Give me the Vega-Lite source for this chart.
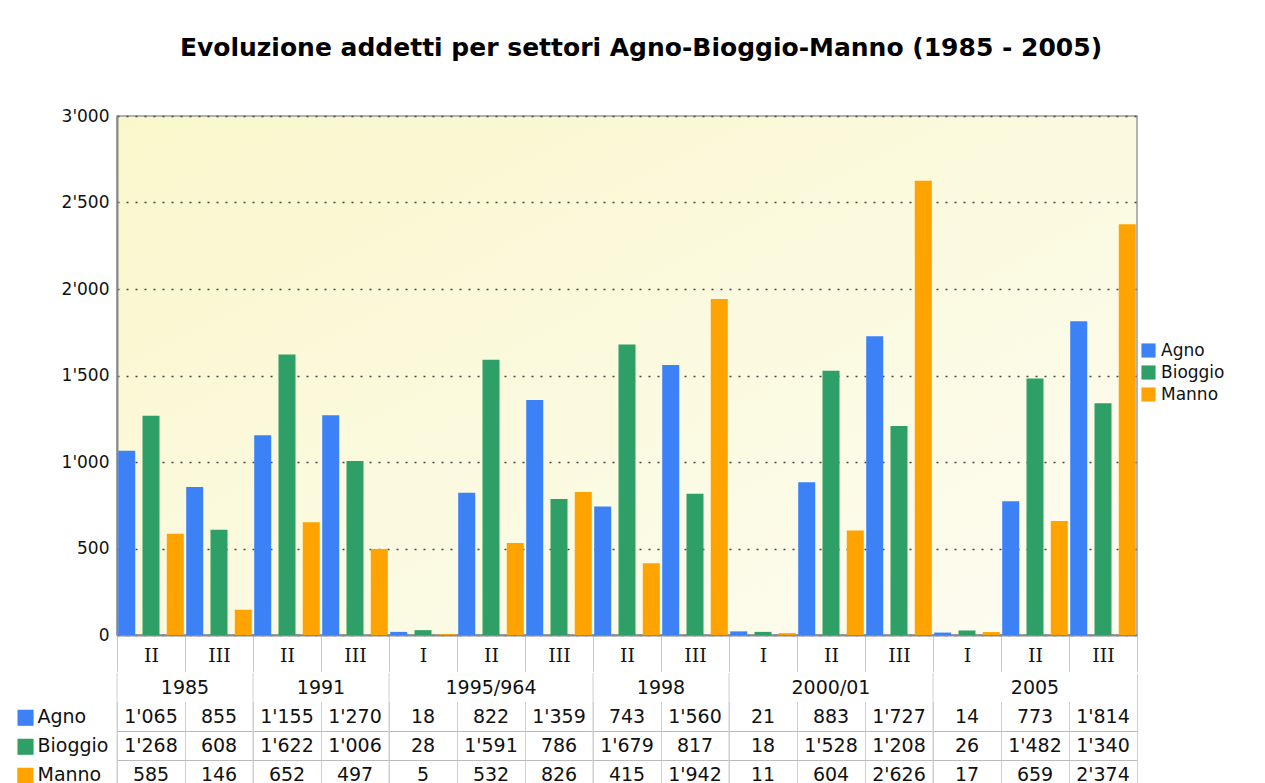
{
  "$schema": "https://vega.github.io/schema/vega-lite/v6.json",
  "background": "white",
  "padding": {"left": 15, "top": 36, "right": 0, "bottom": 0},
  "title": {"text": "Evoluzione addetti per settori Agno-Bioggio-Manno (1985 - 2005)", "font": "DejaVu Sans", "fontSize": 25, "fontWeight": "bold", "color": "#000", "anchor": "middle", "offset": 45, "dx": 21},
  "datasets": {
    "main": [
      {"col": "1985|II", "year": "1985", "sector": "II", "series": "Agno", "value": 1065},
      {"col": "1985|II", "year": "1985", "sector": "II", "series": "Bioggio", "value": 1268},
      {"col": "1985|II", "year": "1985", "sector": "II", "series": "Manno", "value": 585},
      {"col": "1985|III", "year": "1985", "sector": "III", "series": "Agno", "value": 855},
      {"col": "1985|III", "year": "1985", "sector": "III", "series": "Bioggio", "value": 608},
      {"col": "1985|III", "year": "1985", "sector": "III", "series": "Manno", "value": 146},
      {"col": "1991|II", "year": "1991", "sector": "II", "series": "Agno", "value": 1155},
      {"col": "1991|II", "year": "1991", "sector": "II", "series": "Bioggio", "value": 1622},
      {"col": "1991|II", "year": "1991", "sector": "II", "series": "Manno", "value": 652},
      {"col": "1991|III", "year": "1991", "sector": "III", "series": "Agno", "value": 1270},
      {"col": "1991|III", "year": "1991", "sector": "III", "series": "Bioggio", "value": 1006},
      {"col": "1991|III", "year": "1991", "sector": "III", "series": "Manno", "value": 497},
      {"col": "1995/964|I", "year": "1995/964", "sector": "I", "series": "Agno", "value": 18},
      {"col": "1995/964|I", "year": "1995/964", "sector": "I", "series": "Bioggio", "value": 28},
      {"col": "1995/964|I", "year": "1995/964", "sector": "I", "series": "Manno", "value": 5},
      {"col": "1995/964|II", "year": "1995/964", "sector": "II", "series": "Agno", "value": 822},
      {"col": "1995/964|II", "year": "1995/964", "sector": "II", "series": "Bioggio", "value": 1591},
      {"col": "1995/964|II", "year": "1995/964", "sector": "II", "series": "Manno", "value": 532},
      {"col": "1995/964|III", "year": "1995/964", "sector": "III", "series": "Agno", "value": 1359},
      {"col": "1995/964|III", "year": "1995/964", "sector": "III", "series": "Bioggio", "value": 786},
      {"col": "1995/964|III", "year": "1995/964", "sector": "III", "series": "Manno", "value": 826},
      {"col": "1998|II", "year": "1998", "sector": "II", "series": "Agno", "value": 743},
      {"col": "1998|II", "year": "1998", "sector": "II", "series": "Bioggio", "value": 1679},
      {"col": "1998|II", "year": "1998", "sector": "II", "series": "Manno", "value": 415},
      {"col": "1998|III", "year": "1998", "sector": "III", "series": "Agno", "value": 1560},
      {"col": "1998|III", "year": "1998", "sector": "III", "series": "Bioggio", "value": 817},
      {"col": "1998|III", "year": "1998", "sector": "III", "series": "Manno", "value": 1942},
      {"col": "2000/01|I", "year": "2000/01", "sector": "I", "series": "Agno", "value": 21},
      {"col": "2000/01|I", "year": "2000/01", "sector": "I", "series": "Bioggio", "value": 18},
      {"col": "2000/01|I", "year": "2000/01", "sector": "I", "series": "Manno", "value": 11},
      {"col": "2000/01|II", "year": "2000/01", "sector": "II", "series": "Agno", "value": 883},
      {"col": "2000/01|II", "year": "2000/01", "sector": "II", "series": "Bioggio", "value": 1528},
      {"col": "2000/01|II", "year": "2000/01", "sector": "II", "series": "Manno", "value": 604},
      {"col": "2000/01|III", "year": "2000/01", "sector": "III", "series": "Agno", "value": 1727},
      {"col": "2000/01|III", "year": "2000/01", "sector": "III", "series": "Bioggio", "value": 1208},
      {"col": "2000/01|III", "year": "2000/01", "sector": "III", "series": "Manno", "value": 2626},
      {"col": "2005|I", "year": "2005", "sector": "I", "series": "Agno", "value": 14},
      {"col": "2005|I", "year": "2005", "sector": "I", "series": "Bioggio", "value": 26},
      {"col": "2005|I", "year": "2005", "sector": "I", "series": "Manno", "value": 17},
      {"col": "2005|II", "year": "2005", "sector": "II", "series": "Agno", "value": 773},
      {"col": "2005|II", "year": "2005", "sector": "II", "series": "Bioggio", "value": 1482},
      {"col": "2005|II", "year": "2005", "sector": "II", "series": "Manno", "value": 659},
      {"col": "2005|III", "year": "2005", "sector": "III", "series": "Agno", "value": 1814},
      {"col": "2005|III", "year": "2005", "sector": "III", "series": "Bioggio", "value": 1340},
      {"col": "2005|III", "year": "2005", "sector": "III", "series": "Manno", "value": 2374}
    ],
    "years": [
      {"year": "1985", "first": "1985|II", "anchor": "1985|II", "span": 2},
      {"year": "1991", "first": "1991|II", "anchor": "1991|II", "span": 2},
      {"year": "1995/964", "first": "1995/964|I", "anchor": "1995/964|II", "span": 3},
      {"year": "1998", "first": "1998|II", "anchor": "1998|II", "span": 2},
      {"year": "2000/01", "first": "2000/01|I", "anchor": "2000/01|II", "span": 3},
      {"year": "2005", "first": "2005|I", "anchor": "2005|II", "span": 3}
    ]
  },
  "vconcat": [
    {
      "width": 1020,
      "height": 519,
      "data": {"name": "main"},
      "view": {
        "stroke": "#9a9a9a",
        "strokeWidth": 1.5,
        "fill": {"gradient": "linear", "x1": 0, "y1": 0, "x2": 1, "y2": 1, "stops": [{"offset": 0, "color": "#f9f7cb"}, {"offset": 1, "color": "#fdfcf2"}]}
      },
      "mark": {"type": "bar"},
      "encoding": {
        "x": {
          "field": "col", "type": "nominal",
          "scale": {"domain": ["1985|II", "1985|III", "1991|II", "1991|III", "1995/964|I", "1995/964|II", "1995/964|III", "1998|II", "1998|III", "2000/01|I", "2000/01|II", "2000/01|III", "2005|I", "2005|II", "2005|III"], "paddingInner": 0, "paddingOuter": 0},
          "axis": {"title": null, "labelExpr": "split(datum.value, '|')[1]", "labelAngle": 0, "tickBand": "extent", "ticks": true, "tickSize": 36, "tickColor": "#c8c8c8", "tickWidth": 1, "domainColor": "#8a8a8a", "domainWidth": 2, "labelFont": "DejaVu Serif", "labelFontSize": 19, "labelColor": "#111", "labelBaseline": "top", "labelPadding": -25}
        },
        "xOffset": {"field": "series", "type": "nominal", "scale": {"domain": ["Agno", "Bioggio", "Manno"], "paddingInner": 0.3, "paddingOuter": 0.05}},
        "y": {
          "field": "value", "type": "quantitative",
          "scale": {"domain": [0, 3000], "nice": false},
          "axis": {"title": null, "values": [0, 500, 1000, 1500, 2000, 2500, 3000], "format": ",d", "grid": true, "gridDash": [2, 7], "gridColor": "#444", "gridWidth": 1.5, "ticks": false, "domainColor": "#8a8a8a", "domainWidth": 2, "labelFont": "DejaVu Sans", "labelFontSize": 17, "labelColor": "#111", "labelPadding": 8}
        },
        "color": {
          "field": "series", "type": "nominal",
          "scale": {"domain": ["Agno", "Bioggio", "Manno"], "range": ["#3d81f6", "#2e9f66", "#ffa300"]},
          "legend": {"title": null, "orient": "none", "legendX": 1023, "legendY": 226, "symbolType": "square", "symbolSize": 200, "symbolStrokeWidth": 0, "labelFont": "DejaVu Sans", "labelFontSize": 17, "labelColor": "#111", "rowPadding": 4}
        }
      }
    },
    {
      "width": 1020,
      "height": 116,
      "layer": [
        {
          "data": {"name": "main"},
          "mark": {"type": "text", "font": "DejaVu Sans", "fontSize": 19, "color": "#111", "baseline": "middle"},
          "encoding": {
            "x": {
              "field": "col", "type": "nominal",
              "scale": {"type": "band", "domain": ["1985|II", "1985|III", "1991|II", "1991|III", "1995/964|I", "1995/964|II", "1995/964|III", "1998|II", "1998|III", "2000/01|I", "2000/01|II", "2000/01|III", "2005|I", "2005|II", "2005|III"], "paddingInner": 0, "paddingOuter": 0},
              "axis": {"title": null, "orient": "top", "labels": false, "ticks": false, "domain": false, "grid": true, "tickBand": "extent", "gridColor": "#cfcfcf", "gridWidth": 1, "minExtent": 0, "maxExtent": 0}
            },
            "y": {
              "field": "series", "type": "nominal",
              "scale": {"type": "band", "domain": ["year", "Agno", "Bioggio", "Manno"], "paddingInner": 0, "paddingOuter": 0},
              "axis": {"title": null, "orient": "left", "labelExpr": "datum.value == 'year' ? '' : datum.value", "labelAlign": "left", "labelBaseline": "middle", "labelPadding": 80, "ticks": false, "domain": false, "grid": true, "tickBand": "extent", "gridColor": {"condition": {"test": "datum.value == 'Agno' || datum.value == 'Bioggio'", "value": "#bbbbbb"}, "value": "transparent"}, "labelFont": "DejaVu Sans", "labelFontSize": 19, "labelColor": "#111"}
            },
            "text": {"field": "value", "type": "quantitative", "format": ",d"}
          }
        },
        {
          "data": {"name": "main"},
          "mark": {"type": "text", "opacity": 0, "fontSize": 1},
          "encoding": {
            "x": {"field": "col", "type": "nominal"},
            "y": {
              "field": "series", "type": "nominal",
              "axis": {"title": null, "orient": "left", "labelExpr": "datum.value == 'year' ? '' : '■'", "labelAlign": "left", "labelBaseline": "middle", "labelPadding": 102, "ticks": false, "domain": false, "grid": false, "labelFont": "DejaVu Sans", "labelFontSize": 21, "labelColor": {"condition": [{"test": "datum.value == 'Agno'", "value": "#3d81f6"}, {"test": "datum.value == 'Bioggio'", "value": "#2e9f66"}], "value": "#ffa300"}}
            },
            "text": {"value": ""}
          }
        },
        {
          "data": {"name": "years"},
          "mark": {"type": "rect", "color": "white"},
          "encoding": {
            "y": {"datum": "year", "type": "nominal", "axis": null}
          }
        },
        {
          "data": {"name": "years"},
          "mark": {"type": "rule", "color": "#cfcfcf", "strokeWidth": 1},
          "encoding": {
            "x": {"field": "first", "type": "nominal", "bandPosition": 0}
          }
        },
        {
          "data": {"name": "years"},
          "transform": [{"filter": "datum.span == 2"}],
          "mark": {"type": "text", "font": "DejaVu Sans", "fontSize": 19, "color": "#111", "baseline": "middle"},
          "encoding": {
            "x": {"field": "anchor", "type": "nominal", "bandPosition": 1},
            "y": {"datum": "year", "type": "nominal", "axis": null},
            "text": {"field": "year", "type": "nominal"}
          }
        },
        {
          "data": {"name": "years"},
          "transform": [{"filter": "datum.span == 3"}],
          "mark": {"type": "text", "font": "DejaVu Sans", "fontSize": 19, "color": "#111", "baseline": "middle"},
          "encoding": {
            "x": {"field": "anchor", "type": "nominal", "bandPosition": 0.5},
            "y": {"datum": "year", "type": "nominal", "axis": null},
            "text": {"field": "year", "type": "nominal"}
          }
        }
      ],
      "resolve": {"axis": {"y": "independent"}}
    }
  ],
  "spacing": -10,
  "config": {
    "view": {"stroke": null},
    "locale": {"number": {"decimal": ".", "thousands": "'", "grouping": [3], "currency": ["", ""]}}
  }
}
